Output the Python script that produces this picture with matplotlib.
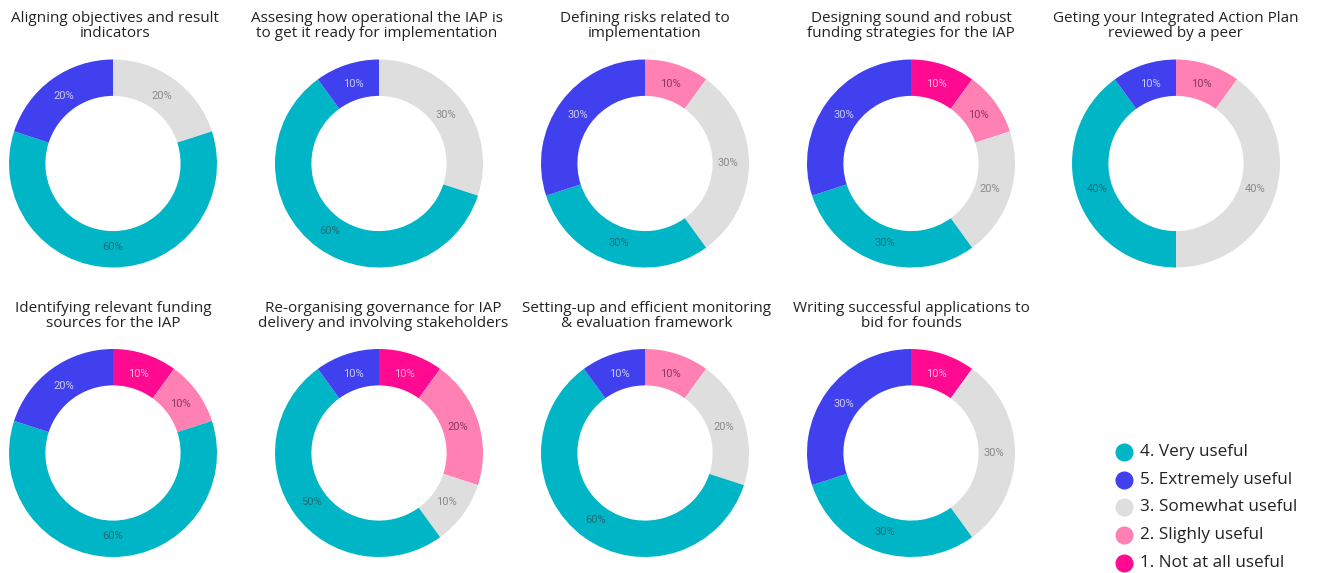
import matplotlib.pyplot as plt
from matplotlib.lines import Line2D

# ---------------------------------------------------------------------------
# Data
# ---------------------------------------------------------------------------
titles = [
    "Aligning objectives and result\nindicators",
    "Assesing how operational the IAP is\nto get it ready for implementation",
    "Defining risks related to\nimplementation",
    "Designing sound and robust\nfunding strategies for the IAP",
    "Geting your Integrated Action Plan\nreviewed by a peer",
    "Identifying relevant funding\nsources for the IAP",
    "Re-organising governance for IAP\ndelivery and involving stakeholders",
    "Setting-up and efficient monitoring\n& evaluation framework",
    "Writing successful applications to\nbid for founds",
]

# order of slices clockwise from 12 o'clock
categories = ["1. Not at all useful", "2. Slighly useful", "3. Somewhat useful",
              "4. Very useful", "5. Extremely useful"]
not_at_all = [0, 0, 0, 10, 0, 10, 10, 0, 10]
slightly = [0, 0, 10, 10, 10, 10, 20, 10, 0]
somewhat = [20, 30, 30, 20, 40, 0, 10, 20, 30]
very = [60, 60, 30, 30, 40, 60, 50, 60, 30]
extremely = [20, 10, 30, 30, 10, 20, 10, 10, 30]

legend_order = ["4. Very useful", "5. Extremely useful", "3. Somewhat useful",
                "2. Slighly useful", "1. Not at all useful"]

colors = {
    "1. Not at all useful": "#FF0A91",
    "2. Slighly useful": "#FF80B2",
    "3. Somewhat useful": "#DEDEDE",
    "4. Very useful": "#00B5C6",
    "5. Extremely useful": "#4040EE",
}
label_colors = {
    "1. Not at all useful": "#FFB3D9",
    "2. Slighly useful": "#8A3A5E",
    "3. Somewhat useful": "#8A8A8A",
    "4. Very useful": "#1E6E77",
    "5. Extremely useful": "#C9C9FF",
}

# ---------------------------------------------------------------------------
# Layout (pixels)
# ---------------------------------------------------------------------------
W, H = 1317, 573
fig = plt.figure(figsize=(W / 100, H / 100), dpi=100)
fig.patch.set_facecolor("white")

col_x = [113, 379, 645, 911, 1176]
row_y = [163.5, 453]
R = 104
title_y = [18, 308]
title_dx = [2, -2, 0, 0, 0, 0, 4, 2, 0]

series = list(zip(not_at_all, slightly, somewhat, very, extremely))

for i, (title, vals) in enumerate(zip(titles, series)):
    r, c = divmod(i, 5)
    cx, cy = col_x[c], row_y[r]
    ax = fig.add_axes([(cx - R) / W, 1 - (cy + R) / H, 2 * R / W, 2 * R / H])
    keep = [(v, k) for v, k in zip(vals, categories) if v > 0]
    vv = [v for v, _ in keep]
    kk = [k for _, k in keep]
    wedges, _, autotexts = ax.pie(
        vv, colors=[colors[k] for k in kk], startangle=90, counterclock=False,
        radius=1.0, wedgeprops=dict(width=0.35, linewidth=0),
        autopct="%1.0f%%", pctdistance=0.8,
        textprops=dict(fontsize=8, family="Roboto"),
    )
    for t, k in zip(autotexts, kk):
        t.set_color(label_colors[k])
    ax.set_xlim(-1, 1)
    ax.set_ylim(-1, 1)
    ax.set_aspect("equal")
    ax.axis("off")
    fig.text((cx + title_dx[i]) / W, 1 - (title_y[r] - 7) / H, title,
             ha="center", va="top", fontsize=11, family="Open Sans",
             color="#222222", linespacing=1.02)

# Legend
leg_x, leg_y0, leg_dy = 1124, 452, 27.7
for j, k in enumerate(legend_order):
    y = leg_y0 + j * leg_dy
    fig.add_artist(Line2D([leg_x / W], [1 - y / H], marker="o", markersize=12,
                          color=colors[k], linestyle="", transform=fig.transFigure))
    fig.text((leg_x + 16) / W, 1 - y / H, k, ha="left", va="center",
             fontsize=12.3, family="Open Sans", color="#222222")

fig.savefig("out.png", dpi=100)
